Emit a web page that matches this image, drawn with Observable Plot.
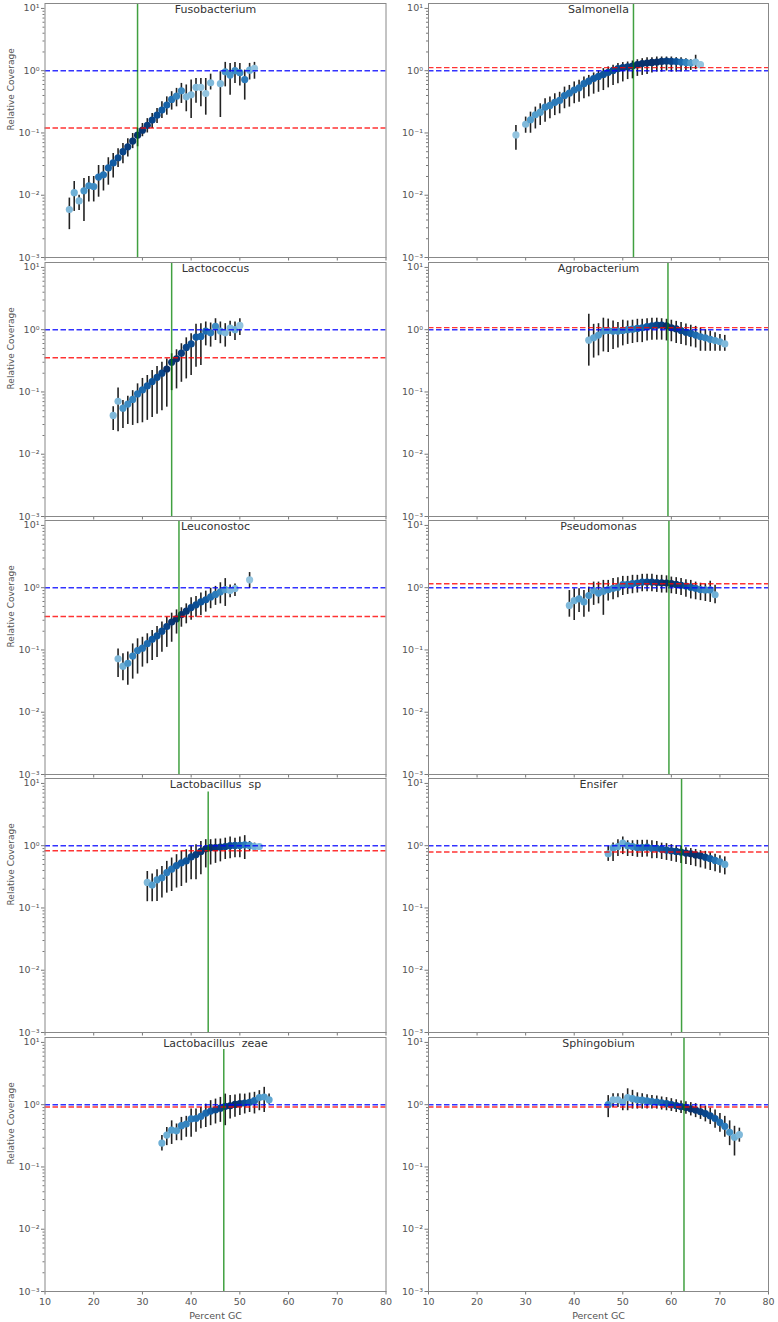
<!DOCTYPE html>
<html><head><meta charset="utf-8">
<script src="https://cdn.jsdelivr.net/npm/d3@7"></script>
<script src="https://cdn.jsdelivr.net/npm/@observablehq/plot@0.6"></script>
<style>
body{margin:0;background:#fff;}
#chart{position:relative;width:778px;height:1322px;font-family:"DejaVu Sans",sans-serif;}
#chart svg{position:absolute;overflow:visible;}
</style></head><body><div id="chart"></div>
<script>
// panel order: left column top→bottom, then right column top→bottom
const titles = ["Fusobacterium","Lactococcus","Leuconostoc","Lactobacillus\u00a0 sp","Lactobacillus\u00a0 zeae",
                "Salmonella","Agrobacterium","Pseudomonas","Ensifer","Sphingobium"];
const greenGC  = [29.0, 36.0, 37.5, 43.5, 46.7, 52.2, 59.3, 59.5, 62.1, 62.6];
const greenTop = [12, 12, 12, 7.3, 7.7, 12, 12, 12, 12, 12];
const redLevel = [0.12, 0.355, 0.345, 0.83, 0.92, 1.12, 1.08, 1.16, 0.79, 0.92];
const blueLevel = 1.0;
const xTicks = [10,20,30,40,50,60,70,80];
const yTicks = [0.001, 0.01, 0.1, 1, 10];
const yTickLabels = ["10\u207b\u00b3","10\u207b\u00b2","10\u207b\u00b9","10\u2070","10\u00b9"];
const yMinor = [0.002,0.003,0.004,0.005,0.006,0.007,0.008,0.009,
                0.02,0.03,0.04,0.05,0.06,0.07,0.08,0.09,
                0.2,0.3,0.4,0.5,0.6,0.7,0.8,0.9,
                2,3,4,5,6,7,8,9];
const xLabel = "Percent GC";
const yLabel = "Relative Coverage";

// rows: [percent GC, relative coverage, lower, upper, window-count shade 0..1]
const fusobacterium = [
 [15,0.0059,0.0028,0.009,0.15],[16,0.011,0.0055,0.0166,0.2],[17,0.0081,0.0057,0.010,0.15],
 [18,0.0118,0.0038,0.0185,0.35],[19,0.0142,0.0078,0.020,0.4],[20,0.0138,0.0078,0.020,0.4],
 [21,0.0196,0.0093,0.030,0.55],[22,0.0213,0.0117,0.030,0.55],[23,0.0275,0.0145,0.040,0.65],
 [24,0.033,0.019,0.047,0.7],[25,0.040,0.028,0.056,0.8],[26,0.050,0.032,0.068,0.85],
 [27,0.060,0.041,0.081,0.9],[28,0.074,0.056,0.098,0.95],[29,0.092,0.060,0.118,1.0],
 [30,0.111,0.087,0.142,0.95],[31,0.133,0.10,0.17,0.9],[32,0.161,0.118,0.205,0.85],
 [33,0.193,0.142,0.247,0.8],[34,0.233,0.171,0.316,0.7],[35,0.28,0.193,0.38,0.65],
 [36,0.346,0.233,0.46,0.55],[37,0.39,0.263,0.52,0.45],[38,0.476,0.298,0.625,0.4],
 [39,0.38,0.219,0.59,0.15],[40,0.41,0.171,0.71,0.15],[41,0.54,0.30,0.75,0.15],
 [42,0.54,0.263,0.75,0.1],[43,0.43,0.193,0.75,0.1],[44,0.64,0.49,0.88,0.15],
 [46,0.62,0.177,0.96,0.15],[47,0.96,0.55,1.36,0.35],[48,0.85,0.405,1.31,0.35],
 [49,1.0,0.625,1.36,0.4],[50,0.93,0.566,1.31,0.4],[51,0.72,0.337,1.02,0.5],
 [52,1.02,0.71,1.31,0.2],[53,1.09,0.73,1.36,0.1]
];
const lactococcus = [
 [24,0.042,0.024,0.058,0.15],[25,0.071,0.023,0.116,0.15],[26,0.055,0.026,0.073,0.35],
 [27,0.064,0.030,0.085,0.4],[28,0.076,0.029,0.105,0.45],[29,0.093,0.031,0.135,0.55],
 [30,0.108,0.032,0.165,0.6],[31,0.125,0.035,0.184,0.7],[32,0.147,0.039,0.221,0.75],
 [33,0.172,0.044,0.257,0.8],[34,0.2,0.05,0.30,0.85],[35,0.234,0.057,0.34,1.0],
 [36,0.30,0.105,0.41,0.95],[37,0.34,0.112,0.476,1.0],[38,0.42,0.143,0.595,0.9],
 [39,0.52,0.162,0.74,0.85],[40,0.59,0.184,0.86,0.8],[41,0.76,0.25,1.22,0.7],
 [42,0.78,0.266,1.25,0.65],[43,0.95,0.55,1.33,0.6],[44,0.89,0.525,1.28,0.5],
 [45,1.13,0.67,1.5,0.4],[46,0.95,0.595,1.33,0.25],[47,0.89,0.525,1.25,0.15],
 [48,1.06,0.78,1.37,0.15],[49,1.0,0.67,1.33,0.2],[50,1.17,0.81,1.5,0.1]
];
const leuconostoc = [
 [25,0.072,0.036,0.104,0.15],[26,0.055,0.032,0.087,0.2],[27,0.061,0.027,0.093,0.35],
 [28,0.080,0.034,0.125,0.45],[29,0.098,0.041,0.151,0.5],[30,0.107,0.053,0.16,0.55],
 [31,0.126,0.06,0.182,0.6],[32,0.148,0.068,0.205,0.7],[33,0.169,0.076,0.238,0.75],
 [34,0.2,0.092,0.28,0.8],[35,0.238,0.11,0.336,0.85],[36,0.28,0.133,0.39,0.95],
 [37,0.316,0.18,0.44,1.0],[38,0.37,0.232,0.476,1.0],[39,0.42,0.263,0.55,0.95],
 [40,0.48,0.30,0.69,0.85],[41,0.53,0.336,0.72,0.8],[42,0.59,0.358,0.82,0.75],
 [43,0.64,0.405,0.88,0.7],[44,0.71,0.46,0.98,0.6],[45,0.78,0.52,1.05,0.5],
 [46,0.86,0.55,1.2,0.45],[47,0.93,0.5,1.4,0.3],[48,0.9,0.69,1.1,0.15],
 [49,0.97,0.72,1.15,0.15],[52,1.34,0.97,1.75,0.1]
];
const lactobacillusSp = [
 [31,0.257,0.126,0.385,0.15],[32,0.233,0.126,0.35,0.3],[33,0.283,0.127,0.41,0.35],
 [34,0.305,0.144,0.465,0.45],[35,0.37,0.173,0.56,0.5],[36,0.42,0.184,0.634,0.55],
 [37,0.48,0.209,0.717,0.65],[38,0.53,0.221,0.81,0.7],[39,0.57,0.25,0.86,0.75],
 [40,0.66,0.284,0.98,0.85],[41,0.72,0.284,1.04,0.9],[42,0.81,0.34,1.17,0.95],
 [43,0.89,0.44,1.25,1.0],[44,0.93,0.49,1.25,1.0],[45,0.93,0.52,1.28,0.95],
 [46,0.95,0.55,1.28,0.9],[47,0.97,0.6,1.32,0.85],[48,1.0,0.62,1.38,0.8],
 [49,1.01,0.64,1.32,0.7],[50,1.01,0.64,1.38,0.6],[51,1.03,0.6,1.45,0.5],
 [52,1.01,0.81,1.17,0.35],[53,0.97,0.84,1.1,0.2],[54,0.97,0.9,1.03,0.15]
];
const lactobacillusZeae = [
 [34,0.242,0.18,0.32,0.2],[35,0.325,0.22,0.43,0.2],[36,0.39,0.23,0.55,0.3],
 [37,0.38,0.264,0.49,0.3],[38,0.46,0.264,0.625,0.45],[39,0.49,0.30,0.65,0.45],
 [40,0.59,0.30,0.85,0.5],[41,0.60,0.36,0.85,0.55],[42,0.65,0.41,0.9,0.55],
 [43,0.73,0.43,1.02,0.6],[44,0.79,0.46,1.16,0.7],[45,0.83,0.49,1.23,0.8],
 [46,0.88,0.52,1.31,0.85],[47,0.94,0.46,1.48,0.9],[48,0.96,0.59,1.4,1.0],
 [49,1.01,0.63,1.43,1.0],[50,1.04,0.67,1.48,0.95],[51,1.06,0.71,1.48,0.8],
 [52,1.09,0.75,1.54,0.7],[53,1.16,0.71,1.58,0.6],[54,1.3,0.8,1.68,0.35],
 [55,1.33,0.75,1.9,0.3],[56,1.2,1.02,1.48,0.25]
];
const salmonella = [
 [28,0.093,0.053,0.132,0.1],[30,0.138,0.099,0.18,0.15],[31,0.163,0.099,0.216,0.3],
 [32,0.196,0.116,0.26,0.3],[33,0.216,0.132,0.294,0.3],[34,0.26,0.149,0.354,0.45],
 [35,0.277,0.169,0.377,0.45],[36,0.31,0.19,0.426,0.5],[37,0.333,0.203,0.45,0.5],
 [38,0.40,0.245,0.545,0.55],[39,0.436,0.26,0.58,0.55],[40,0.49,0.295,0.66,0.55],
 [41,0.53,0.31,0.70,0.55],[42,0.62,0.355,0.79,0.6],[43,0.68,0.38,0.84,0.65],
 [44,0.75,0.42,0.92,0.7],[45,0.81,0.45,0.99,0.7],[46,0.87,0.48,1.08,0.75],
 [47,0.94,0.53,1.15,0.75],[48,1.01,0.58,1.22,0.8],[49,1.08,0.62,1.3,0.85],
 [50,1.12,0.66,1.35,0.9],[51,1.15,0.72,1.38,0.9],[52,1.19,0.74,1.43,0.95],
 [53,1.25,0.81,1.5,1.0],[54,1.3,0.84,1.56,1.0],[55,1.33,0.87,1.62,1.0],
 [56,1.36,0.92,1.62,1.0],[57,1.38,0.95,1.66,1.0],[58,1.41,0.95,1.66,0.95],
 [59,1.43,0.99,1.66,0.9],[60,1.41,0.95,1.66,0.85],[61,1.4,0.95,1.62,0.75],
 [62,1.38,0.95,1.62,0.6],[63,1.36,1.01,1.56,0.45],[64,1.33,1.01,1.5,0.3],
 [65,1.38,1.04,1.77,0.15],[66,1.25,1.08,1.38,0.1]
];
const agrobacterium = [
 [43,0.68,0.26,1.77,0.15],[44,0.74,0.35,1.22,0.25],[45,0.82,0.38,1.25,0.3],
 [46,0.95,0.44,1.53,0.35],[47,0.97,0.43,1.48,0.35],[48,0.95,0.48,1.38,0.4],
 [49,0.95,0.51,1.3,0.4],[50,0.97,0.55,1.42,0.45],[51,1.0,0.58,1.38,0.45],
 [52,1.02,0.6,1.42,0.5],[53,1.05,0.62,1.47,0.6],[54,1.07,0.62,1.47,0.65],
 [55,1.12,0.66,1.5,0.7],[56,1.15,0.68,1.53,0.8],[57,1.18,0.68,1.53,0.85],
 [58,1.18,0.68,1.5,0.9],[59,1.15,0.66,1.47,1.0],[60,1.07,0.64,1.42,1.0],
 [61,1.03,0.6,1.36,0.95],[62,0.97,0.58,1.3,0.85],[63,0.91,0.55,1.24,0.8],
 [64,0.87,0.53,1.18,0.7],[65,0.82,0.51,1.13,0.6],[66,0.77,0.45,1.06,0.5],
 [67,0.74,0.45,1.0,0.45],[68,0.70,0.45,0.95,0.4],[69,0.67,0.45,0.89,0.3],
 [70,0.64,0.45,0.84,0.25],[71,0.59,0.45,0.81,0.15]
];
const pseudomonas = [
 [39,0.52,0.336,0.9,0.15],[40,0.62,0.297,0.96,0.2],[41,0.66,0.4,0.96,0.3],
 [42,0.59,0.336,0.9,0.3],[43,0.75,0.405,1.02,0.35],[44,0.9,0.52,1.23,0.3],
 [45,0.82,0.55,1.23,0.35],[46,0.88,0.36,1.31,0.35],[47,0.93,0.61,1.31,0.4],
 [48,0.98,0.64,1.4,0.4],[49,1.02,0.69,1.45,0.45],[50,1.12,0.75,1.52,0.5],
 [51,1.13,0.78,1.52,0.55],[52,1.16,0.8,1.58,0.6],[53,1.19,0.82,1.58,0.65],
 [54,1.23,0.86,1.64,0.7],[55,1.23,0.86,1.64,0.8],[56,1.23,0.86,1.64,0.85],
 [57,1.21,0.84,1.58,0.9],[58,1.2,0.82,1.58,0.95],[59,1.19,0.82,1.55,1.0],
 [60,1.16,0.8,1.48,1.0],[61,1.13,0.78,1.45,0.95],[62,1.09,0.75,1.4,0.9],
 [63,1.06,0.7,1.34,0.8],[64,1.02,0.66,1.31,0.7],[65,0.98,0.64,1.23,0.6],
 [66,0.93,0.62,1.18,0.5],[67,0.92,0.6,1.15,0.4],[68,0.92,0.58,1.27,0.4],
 [69,0.77,0.55,1.09,0.2]
];
const ensifer = [
 [47,0.74,0.56,0.97,0.2],[48,0.92,0.56,1.1,0.3],[49,0.97,0.67,1.25,0.25],
 [50,1.1,0.72,1.38,0.2],[51,1.0,0.67,1.2,0.35],[52,0.97,0.67,1.2,0.4],
 [53,0.93,0.65,1.22,0.5],[54,0.93,0.65,1.22,0.55],[55,0.95,0.66,1.22,0.6],
 [56,0.91,0.62,1.2,0.6],[57,0.91,0.62,1.17,0.65],[58,0.88,0.6,1.1,0.7],
 [59,0.85,0.58,1.08,0.75],[60,0.83,0.56,1.04,0.8],[61,0.81,0.54,1.0,0.85],
 [62,0.79,0.52,0.97,0.9],[63,0.76,0.5,0.93,0.95],[64,0.74,0.48,0.9,1.0],
 [65,0.71,0.46,0.87,1.0],[66,0.69,0.44,0.83,0.95],[67,0.65,0.42,0.81,0.85],
 [68,0.62,0.4,0.77,0.7],[69,0.58,0.38,0.73,0.55],[70,0.55,0.36,0.69,0.4],
 [71,0.50,0.34,0.66,0.25]
];
const sphingobium = [
 [47,1.0,0.62,1.4,0.4],[48,1.2,0.9,1.5,0.15],[49,1.2,0.9,1.5,0.15],
 [50,1.1,0.8,1.5,0.2],[51,1.3,0.8,1.8,0.2],[52,1.25,0.85,1.7,0.3],
 [53,1.2,0.85,1.55,0.35],[54,1.18,0.85,1.5,0.4],[55,1.15,0.85,1.45,0.45],
 [56,1.12,0.85,1.4,0.5],[57,1.1,0.85,1.38,0.55],[58,1.07,0.82,1.33,0.6],
 [59,1.04,0.8,1.3,0.7],[60,1.0,0.78,1.25,0.8],[61,0.97,0.75,1.2,0.85],
 [62,0.93,0.72,1.15,0.9],[63,0.9,0.7,1.12,1.0],[64,0.86,0.66,1.08,1.0],
 [65,0.82,0.62,1.04,0.95],[66,0.77,0.58,1.0,0.9],[67,0.72,0.53,0.95,0.85],
 [68,0.66,0.48,0.88,0.8],[69,0.6,0.42,0.82,0.7],[70,0.52,0.36,0.72,0.6],
 [71,0.45,0.3,0.65,0.5],[72,0.36,0.22,0.55,0.35],[73,0.3,0.15,0.45,0.2],
 [74,0.33,0.25,0.42,0.15]
];
const panelData = [fusobacterium, lactococcus, leuconostoc, lactobacillusSp, lactobacillusZeae,
                   salmonella, agrobacterium, pseudomonas, ensifer, sphingobium];

const chart = document.getElementById("chart");
const frameTops = [3, 262, 520, 778, 1037];
const frameH = 254;

panelData.forEach((rows, i) => {
  const col = i < 5 ? 0 : 1, row = i % 5;
  const last = row === 4;
  const data = rows.map(([gc, cov, lo, hi, w]) => ({gc, cov, lo, hi, w}));
  const mt = 6, mb = last ? 32 : 6;
  const ml = col === 0 ? 44.5 : 39, mr = col === 0 ? 3.5 : 10;
  const marks = [
    Plot.axisY({ticks: yTicks, tickFormat: d => yTickLabels[yTicks.indexOf(d)], tickSize: 3.5, tickPadding: 2,
                label: null, stroke: "#777", fontSize: 9.5}),
    Plot.axisY({ticks: yMinor, tickSize: 2, tickFormat: () => "", label: null, stroke: "#777"}),
    Plot.axisX({ticks: xTicks, tickSize: 3.5, tickPadding: 3, stroke: "#777", fontSize: 9.5,
                tickFormat: last ? (d => String(d)) : () => "", label: null}),
    Plot.ruleX(data, {x: "gc", y1: "lo", y2: "hi", stroke: "#222", strokeWidth: 1.6}),
    Plot.dot(data, {x: "gc", y: "cov", r: 3.6, fill: "w", stroke: null}),
    Plot.ruleY([blueLevel], {stroke: "#0000ff", strokeOpacity: 0.8, strokeWidth: 1.4, strokeDasharray: "5.5,2.5"}),
    Plot.ruleY([redLevel[i]], {stroke: "#ff0000", strokeOpacity: 0.8, strokeWidth: 1.4, strokeDasharray: "5.5,2.5"}),
    Plot.ruleX([greenGC[i]], {y1: 0.001, y2: greenTop[i], stroke: "#008000", strokeOpacity: 0.75, strokeWidth: 1.5}),
    Plot.frame({stroke: "#888"}),
    Plot.text([titles[i]], {frameAnchor: "top", dy: 2, lineAnchor: "top", fontSize: 11, fill: "#333"})
  ];
  if (col === 0) marks.push(Plot.text([yLabel], {frameAnchor: "left", dx: -34, rotate: -90, lineAnchor: "middle", fontSize: 9, fill: "#555"}));
  if (last) marks.push(Plot.text([xLabel], {frameAnchor: "bottom", dy: 24, lineAnchor: "middle", fontSize: 9.5, fill: "#555"}));
  const svg = Plot.plot({
    width: 389, height: frameH + mt + mb,
    marginTop: mt, marginBottom: mb, marginLeft: ml, marginRight: mr,
    x: {domain: [10, 80]},
    y: {type: "log", domain: [0.001, 12]},
    color: {type: "linear", domain: [0, 1], interpolate: t => d3.interpolateBlues(0.25 + 0.75 * Math.pow(t, 0.7))},
    style: {fontFamily: "DejaVu Sans", fontSize: "9px", color: "#555", background: "transparent"},
    marks
  });
  svg.style.left = (col * 389) + "px";
  svg.style.top = (frameTops[row] - mt) + "px";
  chart.appendChild(svg);
});
</script>
</body></html>
